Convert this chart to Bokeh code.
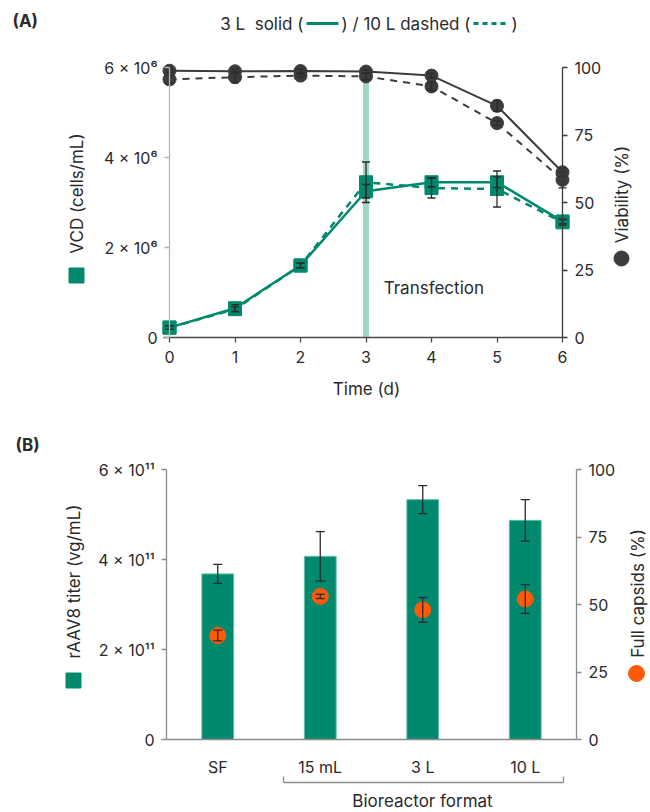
from bokeh.plotting import figure
from bokeh.models import Range1d, LinearAxis, Label, FixedTicker
from bokeh.layouts import column
from bokeh.embed import file_html
from bokeh.resources import INLINE

# ---------------- data: panel A ----------------
days = [0, 1, 2, 3, 4, 5, 6]
vcd_3L = [0.22e6, 0.65e6, 1.60e6, 3.25e6, 3.45e6, 3.45e6, 2.58e6]
vcd_3L_err = [0.04e6, 0.08e6, 0.05e6, 0.15e6, 0.10e6, 0.12e6, 0.05e6]
vcd_10L = [0.22e6, 0.63e6, 1.60e6, 3.45e6, 3.32e6, 3.30e6, 2.56e6]
vcd_10L_err = [0.04e6, 0.05e6, 0.05e6, 0.45e6, 0.22e6, 0.40e6, 0.06e6]
via_3L = [98.8, 98.6, 98.7, 98.5, 97.0, 85.8, 61.2]
via_3L_err = [0.6, 0.8, 0.6, 0.6, 0.8, 2.0, 1.5]
via_10L = [95.6, 96.4, 97.0, 96.7, 93.0, 79.4, 58.4]
via_10L_err = [1.5, 2.0, 0.6, 1.2, 1.5, 0.8, 3.0]
vcd_ticks = [0, 2000000, 4000000, 6000000]
vcd_tick_labels = ["0", "2 × 10⁶", "4 × 10⁶", "6 × 10⁶"]
pct_ticks = [0, 25, 50, 75, 100]
transfection_day = 3

# ---------------- data: panel B ----------------
formats = ["SF", "15 mL", "3 L", "10 L"]
titer = [3.68e11, 4.07e11, 5.33e11, 4.87e11]
titer_err = [0.21e11, 0.55e11, 0.31e11, 0.46e11]
full_caps = [38.5, 53.0, 48.0, 52.0]
full_caps_err = [2.0, 0.8, 4.6, 5.3]
titer_ticks = [0, 200000000000, 400000000000, 600000000000]
titer_tick_labels = ["0", "2 × 10¹¹", "4 × 10¹¹", "6 × 10¹¹"]

FONT = "Inter"
GREEN = "#00896c"
DARK = "#3c3c3e"
ORANGE = "#ff5a0a"
BAND = "#9fd8c9"
TXT = "#2a2a2a"
ERR = "#2b2b2b"
GRAY = "#8c8c8c"


def style_axis(ax, line_color, ticks=None, labels=None, standoff=7):
    ax.axis_line_color = line_color
    ax.axis_line_width = 1.3
    ax.major_tick_line_color = line_color
    ax.major_tick_line_width = 1.3
    ax.major_tick_out = 5
    ax.major_tick_in = 0
    ax.minor_tick_line_color = None
    ax.major_label_text_font = FONT
    ax.major_label_text_font_size = "16px"
    ax.major_label_text_color = TXT
    ax.major_label_standoff = standoff
    if ticks is not None:
        ax.ticker = FixedTicker(ticks=ticks)
    if labels is not None:
        ax.major_label_overrides = {t: l for t, l in zip(ticks, labels)}


def errorbars(p, x, y, err, cap=8, color=ERR, width=1.3, **kw):
    lo = [a - e for a, e in zip(y, err)]
    hi = [a + e for a, e in zip(y, err)]
    p.segment(x0=x, y0=lo, x1=x, y1=hi, line_color=color, line_width=width, **kw)
    p.scatter(x=list(x) + list(x), y=lo + hi, marker="dash", size=cap,
              line_color=color, line_width=width, **kw)


def label(p, H, cx, cy, text, size="17px", angle=0, color=TXT, align="center",
          style="normal"):
    # frame covers the whole canvas: screen units from the canvas bottom-left
    p.add_layout(Label(x=cx, y=H - cy, x_units="screen", y_units="screen",
                       text=text, text_font=FONT, text_font_size=size, text_color=color,
                       text_align=align, text_baseline="middle", angle=angle,
                       angle_units="deg", text_font_style=style))


def base_figure(W, H, xr, yr):
    p = figure(width=W, height=H, x_range=xr, y_range=yr, output_backend="svg",
               toolbar_location=None, min_border=0, min_border_left=0,
               min_border_right=0, min_border_top=0, min_border_bottom=0)
    p.grid.visible = False
    p.outline_line_color = None
    p.border_fill_color = "white"
    return p


# ======================= Panel A =======================
WA, HA = 650, 400
XA = lambda px: (px - 169) / 65.5          # canvas px -> day
YA = lambda py: (337 - py) * 1e6 / 45.0    # canvas px -> cells/mL
VA = lambda py: (337 - py) / 2.7           # canvas px -> viability %

pA = base_figure(WA, HA, Range1d(XA(0), XA(WA)), Range1d(YA(HA), YA(0)))
pA.extra_y_ranges = {"via": Range1d(VA(HA), VA(0))}

yA = pA.yaxis[0]
yA.fixed_location = 0
yA.bounds = (0, 6e6)
style_axis(yA, "#b5b5b5", vcd_ticks, vcd_tick_labels)

xA = pA.xaxis[0]
xA.fixed_location = 0
xA.bounds = (XA(163), 6)
style_axis(xA, "#4a4a4a", days, [str(d) for d in days], standoff=8)

rA = LinearAxis(y_range_name="via", fixed_location=6, bounds=(0, 100))
style_axis(rA, "#3a3a3a", pct_ticks, [str(t) for t in pct_ticks])
pA.add_layout(rA, "right")

# transfection band
pA.segment(x0=[transfection_day], y0=[0], x1=[transfection_day], y1=[6e6],
           line_color=BAND, line_width=6)

# viability (right axis)
pA.line(days, via_10L, y_range_name="via", line_color=DARK, line_width=2,
        line_dash="7 6")
pA.line(days, via_3L, y_range_name="via", line_color=DARK, line_width=2)
pA.scatter(days, via_10L, y_range_name="via", marker="circle", size=13,
           fill_color=DARK, line_color=DARK)
pA.scatter(days, via_3L, y_range_name="via", marker="circle", size=13,
           fill_color=DARK, line_color=DARK)
errorbars(pA, days, via_10L, via_10L_err, y_range_name="via")
errorbars(pA, days, via_3L, via_3L_err, y_range_name="via")

# VCD (left axis)
pA.line(days, vcd_10L, line_color=GREEN, line_width=2.5, line_dash="7 6")
pA.line(days, vcd_3L, line_color=GREEN, line_width=2.5)
pA.scatter(days, vcd_10L, marker="square", size=13, fill_color=GREEN, line_color=GREEN)
pA.scatter(days, vcd_3L, marker="square", size=13, fill_color=GREEN, line_color=GREEN)
errorbars(pA, days, vcd_10L, vcd_10L_err)
errorbars(pA, days, vcd_3L, vcd_3L_err)

pA.add_layout(Label(x=3.27, y=1.11e6, text="Transfection", text_font=FONT,
                    text_font_size="17px", text_color=TXT, text_align="left",
                    text_baseline="middle"))

# titles, legend keys, header
label(pA, HA, 366, 388, "Time (d)")
label(pA, HA, 76, 193, "VCD (cells/mL)", angle=90)
pA.scatter([XA(76)], [YA(275)], marker="square", size=15, fill_color=GREEN,
           line_color=GREEN)
label(pA, HA, 621, 194, "Viability (%)", angle=90)
pA.scatter([XA(621)], [YA(258)], marker="circle", size=15, fill_color=DARK,
           line_color=DARK)
label(pA, HA, 12, 20, "(A)", size="17px", style="bold", align="left")
label(pA, HA, 303, 23, "3 L\u00a0 solid (", size="17px", align="right")
pA.segment(x0=[XA(306)], y0=[YA(23)], x1=[XA(338)], y1=[YA(23)], line_color=GREEN,
           line_width=3)
label(pA, HA, 341, 23, ") / 10 L dashed (", size="17px", align="left")
pA.segment(x0=[XA(473)], y0=[YA(23)], x1=[XA(508)], y1=[YA(23)], line_color=GREEN,
           line_width=3, line_dash="5 4")
label(pA, HA, 511, 23, ")", size="17px", align="left")

# ======================= Panel B =======================
WB, HB = 650, 412
XB = lambda px: (px - 166) / 102.5          # canvas px -> category units
YB = lambda py: (339 - py) * 1e11 / 45.0    # canvas px -> vg/mL
PB = lambda py: (339 - py) / 2.7            # canvas px -> %

pos = [i + 0.5 for i in range(len(formats))]

pB = base_figure(WB, HB, Range1d(XB(0), XB(WB)), Range1d(YB(HB), YB(0)))
pB.extra_y_ranges = {"pct": Range1d(PB(HB), PB(0))}

yB = pB.yaxis[0]
yB.fixed_location = 0
yB.bounds = (0, 6e11)
style_axis(yB, GRAY, titer_ticks, titer_tick_labels)

xB = pB.xaxis[0]
xB.fixed_location = 0
xB.bounds = (0, len(formats))
style_axis(xB, GRAY, pos, formats, standoff=12)
xB.major_tick_line_color = None

rB = LinearAxis(y_range_name="pct", fixed_location=len(formats), bounds=(0, 100))
style_axis(rB, GRAY, pct_ticks, [str(t) for t in pct_ticks])
pB.add_layout(rB, "right")

pB.vbar(x=pos, top=titer, width=0.31, fill_color=GREEN, line_color="#5fbfa6",
        line_width=1)
errorbars(pB, pos, titer, titer_err, cap=9)
pB.scatter(pos, full_caps, y_range_name="pct", marker="circle", size=16,
           fill_color=ORANGE, line_color=ORANGE)
errorbars(pB, pos, full_caps, full_caps_err, cap=9, y_range_name="pct")

label(pB, HB, 15, 44, "(B)", size="17px", style="bold", align="left")
label(pB, HB, 73, 181, "rAAV8 titer (vg/mL)", angle=90)
pB.scatter([XB(73)], [YB(280)], marker="square", size=15, fill_color=GREEN,
           line_color=GREEN)
label(pB, HB, 637, 193, "Full capsids (%)", angle=90)
pB.scatter([XB(636)], [YB(273)], marker="circle", size=16, fill_color=ORANGE,
           line_color=ORANGE)

# bracket for bioreactor formats
pB.segment(x0=[XB(283), XB(283), XB(563)], y0=[YB(382), YB(382), YB(382)],
           x1=[XB(563), XB(283), XB(563)], y1=[YB(382), YB(376), YB(376)],
           line_color=GRAY, line_width=1.3)
label(pB, HB, 422, 400, "Bioreactor format", size="17px")

layout = column(pA, pB)
open("out.html", "w").write(file_html(layout, INLINE))
